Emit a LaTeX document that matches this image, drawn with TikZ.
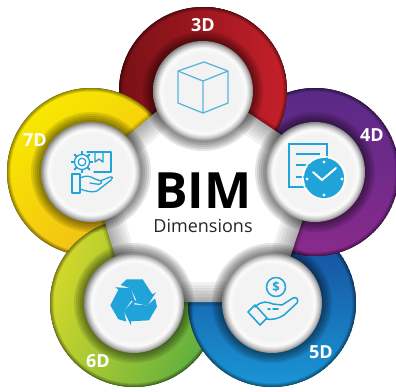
\documentclass[tikz,border=0pt]{standalone}
\usepackage{fontspec}
\setmainfont{Open Sans}
\definecolor{iconblue}{HTML}{1FA3D8}
\definecolor{cubeblue}{HTML}{5DB5DC}
\definecolor{discmid}{HTML}{F3F3F3}
\definecolor{discrim}{HTML}{FBFBFB}
\definecolor{discsoft}{HTML}{C4C4C4}
\definecolor{discedge}{HTML}{858585}
\pgfdeclareradialshading{discshade}{\pgfpointorigin}{%
 color(0bp)=(discmid); color(19bp)=(discmid); color(21.5bp)=(discrim); color(23.5bp)=(discsoft); color(25bp)=(discedge); color(50bp)=(discedge)}
\tikzset{
 px/.style={x=1pt,y=-1pt},
 redring/.style={left color=red!45!black!95!white,right color=red!70!black!60!orange},
 lbl/.style={text=white,font=\bfseries\fontsize{18}{18}\selectfont,inner sep=0pt},
 iconline/.style={draw=iconblue,line width=1.5pt,line join=round,line cap=round,fill=none},
 cubeline/.style={draw=cubeblue,line width=1.3pt,line join=round},
 iconfill/.style={fill=iconblue,draw=none},
}
\newcommand{\ringdisc}[3]{%
 \begin{scope}
 \clip (#1,#2) circle (84pt);
 \fill[#3] (#1,#2) circle (84pt);
 \foreach \w in {7,5,3,1.5}{\draw[black,opacity=.12,line width=\w pt] (#1,#2) circle (84pt);}
 \end{scope}}
\newcommand{\whitedisc}[2]{%
 \foreach \r in {60,58,56,54,52}{\fill[black,opacity=.10] (#1,#2) circle (\r pt);}
 \shade[shading=discshade] (#1,#2) circle (50pt);}
\newcommand{\recyclearm}{%
 \fill[iconblue] (92,60) -- (110,43) -- (158,43) -- (187,88) -- (198,82) -- (172,122) -- (126,112) -- (139,105) -- (122,70) -- cycle;}
\begin{document}
\begin{tikzpicture}[px]
\useasboundingbox (0,0) rectangle (396,391);
\fill[white] (0,0) rectangle (396,391);
% rings, each lying over the next one clockwise
\ringdisc{203}{91}{left color={rgb,255:red,120;green,16;blue,22},right color={rgb,255:red,198;green,32;blue,42}}
\ringdisc{91}{172}{top color={rgb,255:red,248;green,232;blue,0},bottom color={rgb,255:red,242;green,185;blue,24},shading angle=40}
\ringdisc{134}{303}{top color={rgb,255:red,212;green,216;blue,42},bottom color={rgb,255:red,92;green,174;blue,64},shading angle=70}
\ringdisc{272}{303}{top color={rgb,255:red,22;green,70;blue,150},bottom color={rgb,255:red,26;green,150;blue,214}}
\ringdisc{315}{172}{top color={rgb,255:red,88;green,42;blue,134},bottom color={rgb,255:red,138;green,42;blue,140}}
\begin{scope}
 \clip (203,0) rectangle (396,391);
 \ringdisc{203}{91}{left color={rgb,255:red,120;green,16;blue,22},right color={rgb,255:red,198;green,32;blue,42}}
\end{scope}
% centre pentagon
\def\penta{(196,78) -- (322,162) -- (275,302) -- (129,302) -- (89,169) -- cycle}
\foreach \w in {8,5,2}{\draw[black,opacity=.10,line width=\w pt,line join=round] \penta;}
\fill[white] \penta;
\begin{scope}
 \clip \penta;
 \foreach \w in {40,34,28,22,16,10,5}{\draw[black,opacity=.05,line width=\w pt,line join=round] \penta;}
\end{scope}
% discs
\whitedisc{203}{91}
\whitedisc{315}{172}
\whitedisc{272}{303}
\whitedisc{134}{303}
\whitedisc{91}{172}
% 3D cube
\draw[cubeline] (204,62) -- (228,71) -- (228,103) -- (203,113) -- (178,103) -- (178,71) -- cycle;
\draw[cubeline] (178,71) -- (203,81) -- (228,71) (203,81) -- (203,113);
% 4D document and clock
\draw[draw=iconblue,line width=2pt,line join=miter] (306,187) -- (289,187) -- (289,144) -- (327,144) -- (327,160);
\draw[draw=iconblue,line width=2.4pt] (296,154) -- (320,154) (296,165) -- (310,165) (296,177) -- (304,177);
\fill[iconblue] (324,178) circle (20pt);
\draw[white,line width=1.5pt] (324,178) circle (21.5pt);
\draw[white,line width=2pt,line cap=round,line join=round] (313,172) -- (322,180) -- (336,168);
\foreach \a/\b in {324/162,342/179,324/195,307/179}{\fill[white] (\a,\b) circle (1.7pt);}
% 5D coin and hand
\draw[iconline] (276,287) circle (9.5pt);
\node (dollar) at (276,287) [text=iconblue,inner sep=0pt,font=\bfseries\fontsize{13}{13}\selectfont] {\$};
\draw[iconline] (248,312) -- (255,305) -- (267,318) -- (260,325) -- cycle;
\draw[iconline] (255,307) .. controls (262,300) and (268,302) .. (273,304) -- (282,305) -- (293,298) .. controls (297,296) and (299,301) .. (297,303) -- (284,315) .. controls (278,319) and (272,320) .. (266,319);
\draw[iconline] (268,309) -- (270,309) (273,309) -- (278,309);
% 6D recycling arrows
\begin{scope}[shift={(90,265)},x=.3333pt,y=-.3333pt]
 \recyclearm
 \begin{scope}[rotate around={120:(132,110)}]\recyclearm\end{scope}
 \begin{scope}[rotate around={240:(132,110)}]\recyclearm\end{scope}
\end{scope}
% 7D gear, box and hand
\foreach \a in {0,45,...,315}{\draw[iconblue,line width=2pt] (82,162) ++(\a:7.5pt) -- ++(\a:3.5pt);}
\draw[iconline,line width=1.3pt,fill=white] (82,162) circle (7.5pt);
\draw[iconline,line width=1.3pt] (82,162) circle (3.8pt);
\draw[iconline,line width=1.3pt] (87,152) -- (111,152) -- (111,172) -- (94,172);
\draw[iconline,line width=1.3pt] (95,152) -- (95,162) -- (99,159) -- (103,162) -- (103,152);
\draw[iconline,line width=1.3pt] (72,174) -- (80,174) -- (80,193) -- (72,193) -- cycle;
\draw[iconline,line width=1.3pt] (80,178) .. controls (86,175) and (90,176) .. (95,179) -- (101,181) .. controls (103,183) and (100,185) .. (96,184) -- (90,183) (100,181) -- (110,177) .. controls (113,176) and (113,179) .. (111,180) -- (97,191) .. controls (92,193) and (86,191) .. (80,189);
% texts
\node (bim) at (203,208) [anchor=base,inner sep=0pt,font=\bfseries\fontsize{50}{50}\selectfont] {BIM};
\node (dims) at (203,232) [anchor=base,inner sep=0pt,text=black!85,font=\fontsize{18}{18}\selectfont] {Dimensions};
\node[lbl] (d3) at (203,25) {3D};
\node[lbl] (d4) at (372,135) {4D};
\node[lbl] (d5) at (321,352) {5D};
\node[lbl] (d6) at (98,361) {6D};
\node[lbl] (d7) at (35,140) {7D};
\end{tikzpicture}
\end{document}
